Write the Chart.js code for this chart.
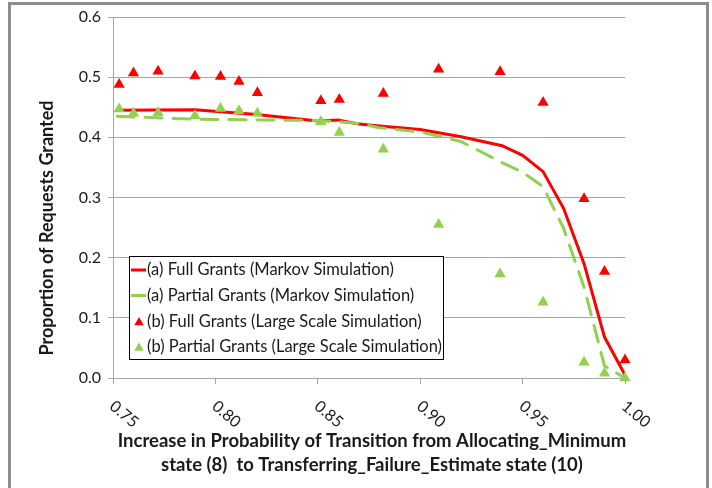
<!DOCTYPE html>
<html><head><meta charset="utf-8">
<script src="https://cdn.jsdelivr.net/npm/chart.js@4/dist/chart.umd.min.js"></script>
<style>html,body{margin:0;padding:0;background:#fff;}canvas{display:block;}</style>
</head><body>
<canvas id="c" width="712" height="488"></canvas>
<script>
// Markov simulation curves (shared x values)
const markovX       = [0.752, 0.79, 0.82, 0.85, 0.86, 0.87, 0.88, 0.90, 0.92, 0.94, 0.95, 0.96, 0.97, 0.98, 0.99, 1.00];
const markovFull    = [0.445, 0.446, 0.438, 0.427, 0.429, 0.422, 0.419, 0.413, 0.401, 0.386, 0.370, 0.343, 0.282, 0.190, 0.068, 0.005];
const markovPartial = [0.435, 0.430, 0.429, 0.428, 0.426, 0.423, 0.416, 0.409, 0.393, 0.358, 0.342, 0.318, 0.249, 0.151, 0.020, 0.000];
// Large scale simulation points
const simX       = [0.753, 0.760, 0.772, 0.790, 0.8025, 0.8115, 0.8205, 0.8515, 0.8605, 0.882, 0.909, 0.939, 0.960, 0.980, 0.990, 1.000];
const simFull    = [0.488, 0.507, 0.510, 0.502, 0.501, 0.493, 0.474, 0.461, 0.463, 0.473, 0.513, 0.509, 0.458, 0.298, 0.177, 0.030];
const simPartial = [0.447, 0.440, 0.441, 0.436, 0.448, 0.444, 0.440, 0.426, 0.408, 0.380, 0.255, 0.173, 0.126, 0.026, 0.008, 0.000];

const xTickValues = [0.75, 0.80, 0.85, 0.90, 0.95, 1.00];
const xTickLabels = ['0.75', '0.80', '0.85', '0.90', '0.95', '1.00'];
const yTickValues = [0, 0.1, 0.2, 0.3, 0.4, 0.5, 0.6];
const yTickLabels = ['0.0', '0.1', '0.2', '0.3', '0.4', '0.5', '0.6'];

const seriesNames = [
  '(a) Full Grants (Markov Simulation)',
  '(a) Partial Grants (Markov Simulation)',
  '(b) Full Grants (Large Scale Simulation)',
  '(b) Partial Grants (Large Scale Simulation)'
];
const xTitle = ['Increase in Probability of Transition from Allocating_Minimum',
                'state (8)  to Transferring_Failure_Estimate state (10)'];
const yTitle = 'Proportion of Requests Granted';

const RED = '#ff0000';
const GREEN = '#92d050';
const GRID = '#a6a6a6';
const FONT = 'Lato';

const pts = (xs, ys) => xs.map((x, i) => ({x: x, y: ys[i]}));

const decor = {
  id: 'decor',
  beforeDraw(chart) {
    const ctx = chart.ctx;
    ctx.save();
    ctx.fillStyle = '#fff';
    ctx.fillRect(0, 0, chart.width, chart.height);
    ctx.strokeStyle = '#8c8c8c';
    ctx.lineWidth = 3;
    ctx.strokeRect(9.5, 3.5, 698, 520);
    ctx.restore();
  },
  afterDraw(chart) {
    const ctx = chart.ctx;
    const xs = chart.scales.x;
    const ca = chart.chartArea;
    ctx.save();
    // rotated x tick labels
    ctx.fillStyle = '#1a1a1a';
    ctx.font = '16px ' + FONT;
    ctx.textAlign = 'left';
    ctx.textBaseline = 'top';
    xTickValues.forEach((v, i) => {
      const px = xs.getPixelForValue(v);
      ctx.save();
      ctx.translate(px + 4, ca.bottom + 20);
      ctx.rotate(40 * Math.PI / 180);
      ctx.fillText(xTickLabels[i], 0, 0);
      ctx.restore();
    });
    // axis titles
    ctx.font = 'bold 18.5px ' + FONT;
    ctx.textAlign = 'center';
    ctx.textBaseline = 'middle';
    const cx = (ca.left + ca.right) / 2 + 3;
    ctx.fillText(xTitle[0], cx, ca.bottom + 63);
    ctx.fillText(xTitle[1], cx, ca.bottom + 87);
    ctx.save();
    ctx.font = 'bold 18px ' + FONT;
    ctx.translate(47, 228);
    ctx.rotate(-Math.PI / 2);
    ctx.fillText(yTitle, 0, 0);
    ctx.restore();
    // legend
    const lx = 129.5, ly = 256.5, lw = 314, lh = 103;
    ctx.fillStyle = '#fff';
    ctx.fillRect(lx, ly, lw, lh);
    ctx.strokeStyle = '#000';
    ctx.lineWidth = 1;
    ctx.strokeRect(lx, ly, lw, lh);
    const rows = [270, 295.5, 321.5, 347];
    ctx.font = '16.5px ' + FONT;
    ctx.textAlign = 'left';
    ctx.textBaseline = 'middle';
    chart.data.datasets.forEach((ds, i) => {
      const y = rows[i];
      if (ds.showLine) {
        ctx.strokeStyle = ds.borderColor;
        ctx.lineWidth = 3;
        ctx.beginPath();
        ctx.moveTo(131, y);
        ctx.lineTo(146, y);
        ctx.stroke();
      } else {
        ctx.fillStyle = ds.backgroundColor;
        ctx.beginPath();
        const r = 5.5;
        ctx.moveTo(139, y + 1 - r);
        ctx.lineTo(139 + r * Math.sin(2 * Math.PI / 3), y + 1 + r / 2);
        ctx.lineTo(139 - r * Math.sin(2 * Math.PI / 3), y + 1 + r / 2);
        ctx.closePath();
        ctx.fill();
      }
      ctx.fillStyle = '#1a1a1a';
      ctx.fillText(ds.label, 147, y);
    });
    ctx.restore();
  }
};

new Chart(document.getElementById('c'), {
  type: 'scatter',
  data: {
    datasets: [
      {label: seriesNames[0], data: pts(markovX, markovFull), showLine: true, borderColor: RED, backgroundColor: RED,
       borderWidth: 3, pointRadius: 0, tension: 0, order: 4},
      {label: seriesNames[1], data: pts(markovX, markovPartial), showLine: true, borderColor: GREEN, backgroundColor: GREEN,
       borderWidth: 3, borderDash: [17, 11], borderCapStyle: 'round', pointRadius: 0, tension: 0, order: 3},
      {label: seriesNames[2], data: pts(simX, simFull), showLine: false, pointStyle: 'triangle', pointRadius: 6.5,
       borderWidth: 0, backgroundColor: RED, borderColor: RED, clip: false, order: 2},
      {label: seriesNames[3], data: pts(simX, simPartial), showLine: false, pointStyle: 'triangle', pointRadius: 6.5,
       borderWidth: 0, backgroundColor: GREEN, borderColor: GREEN, clip: false, order: 1}
    ]
  },
  options: {
    responsive: false,
    animation: false,
    devicePixelRatio: 1,
    layout: {padding: {left: 0, right: 87, top: 17, bottom: 0}},
    plugins: {legend: {display: false}, tooltip: {enabled: false}},
    scales: {
      x: {
        type: 'linear', min: 0.75, max: 1.0,
        afterBuildTicks: s => { s.ticks = xTickValues.map(v => ({value: v})); },
        afterFit: s => { s.height = 110; },
        ticks: {color: 'rgba(0,0,0,0)', maxRotation: 0, minRotation: 0, callback: (v, i) => xTickLabels[i],
                font: {family: FONT, size: 16}},
        grid: {drawOnChartArea: false, drawTicks: true, tickLength: 6, color: GRID},
        border: {color: GRID, width: 1}
      },
      y: {
        min: 0, max: 0.6,
        afterBuildTicks: s => { s.ticks = yTickValues.map(v => ({value: v})); },
        afterFit: s => { s.width = 113; },
        ticks: {color: '#1a1a1a', padding: 7, callback: (v, i) => yTickLabels[i], font: {family: FONT, size: 16}},
        grid: {color: GRID, tickLength: 5, drawTicks: true},
        border: {color: GRID, width: 1}
      }
    }
  },
  plugins: [decor]
});
</script>
</body></html>
